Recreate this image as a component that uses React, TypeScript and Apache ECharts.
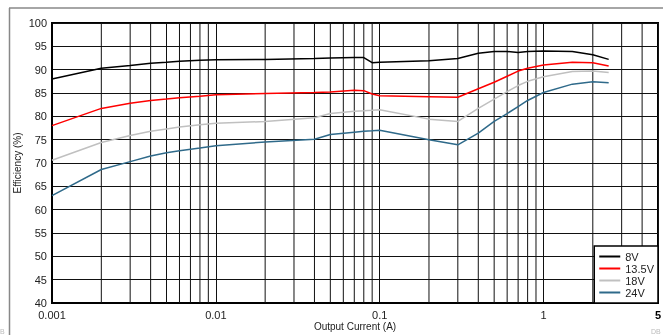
import { useEffect, useRef } from "react";
import * as echarts from "echarts";

const currents = [0.001, 0.002, 0.003, 0.004, 0.005, 0.006, 0.008, 0.01, 0.02, 0.04, 0.05, 0.07, 0.08, 0.09, 0.1, 0.2, 0.3, 0.4, 0.5, 0.6, 0.7, 0.8, 1, 1.5, 2, 2.5];
const eff8V = [88.0, 90.3, 90.9, 91.4, 91.6, 91.8, 92.0, 92.1, 92.2, 92.4, 92.5, 92.6, 92.6, 91.5, 91.6, 91.9, 92.4, 93.5, 93.9, 93.9, 93.7, 93.9, 94.0, 93.9, 93.2, 92.2];
const eff13V5 = [78.0, 81.7, 82.8, 83.4, 83.7, 84.0, 84.3, 84.6, 84.9, 85.1, 85.2, 85.6, 85.5, 84.8, 84.4, 84.2, 84.1, 85.9, 87.3, 88.6, 89.7, 90.3, 91.0, 91.6, 91.5, 90.8];
const eff18V = [70.6, 74.4, 75.9, 76.8, 77.3, 77.7, 78.2, 78.5, 78.9, 79.7, 80.6, 81.1, 81.2, 81.3, 81.4, 79.4, 78.9, 81.7, 83.7, 85.3, 86.6, 87.5, 88.5, 89.6, 89.7, 89.4];
const eff24V = [63.0, 68.6, 70.3, 71.5, 72.2, 72.6, 73.2, 73.7, 74.5, 75.1, 76.1, 76.6, 76.8, 76.9, 77.0, 75.0, 73.9, 76.4, 78.9, 80.6, 82.1, 83.4, 85.1, 86.9, 87.4, 87.2];

const seriesNames = ["8V", "13.5V", "18V", "24V"];
const seriesColors = ["#000000", "#ff0000", "#c0c0c0", "#2f6a8a"];
const seriesValues = [eff8V, eff13V5, eff18V, eff24V];

const xMin = 0.001;
const xMax = 5;
const yMin = 40;
const yMax = 100;
const yStep = 5;

const minorGridX = [
  0.002, 0.003, 0.004, 0.005, 0.006, 0.007, 0.008, 0.009,
  0.02, 0.03, 0.04, 0.05, 0.06, 0.07, 0.08, 0.09,
  0.2, 0.3, 0.4, 0.5, 0.6, 0.7, 0.8, 0.9,
  2, 3, 4,
];

const FONT = "'Liberation Sans', Arial, sans-serif";

export default function App() {
  const ref = useRef<HTMLDivElement>(null);
  useEffect(() => {
    const chart = echarts.init(ref.current!, null, { renderer: "svg" });
    const curveSeries = seriesNames.map((name, i) => ({
      name,
      type: "line",
      data: currents.map((c, j) => [c, seriesValues[i][j]]),
      symbol: "none",
      showSymbol: false,
      z: 3,
      lineStyle: { color: seriesColors[i], width: 1.5 },
      itemStyle: { color: seriesColors[i] },
    }));
    chart.setOption({
      animation: false,
      textStyle: { fontFamily: FONT },
      grid: {
        left: 52,
        right: 5,
        top: 23,
        bottom: 32,
        containLabel: false,
        outerBoundsMode: "none",
        show: true,
        borderColor: "#000",
        borderWidth: 2,
        backgroundColor: "transparent",
      },
      xAxis: {
        type: "log",
        logBase: 10,
        min: xMin,
        max: xMax,
        name: "Output Current (A)",
        nameLocation: "middle",
        nameMoveOverlap: false,
        nameGap: 18,
        nameTextStyle: { fontSize: 10, color: "#222", fontFamily: FONT },
        axisLine: { show: true, lineStyle: { color: "#000", width: 2 } },
        axisTick: { show: false },
        splitLine: { show: true, lineStyle: { color: "#111", width: 1 } },
        axisLabel: {
          fontSize: 11,
          color: "#222",
          margin: 6,
          showMaxLabel: true,
          showMinLabel: true,
          fontFamily: FONT,
          formatter: (v: number) => {
            if (Math.abs(v - 5) < 1e-6) return "{b|5}";
            return String(Number(v.toPrecision(1)));
          },
          rich: { b: { fontWeight: "bold", fontSize: 11, color: "#000", fontFamily: FONT } },
        },
      },
      yAxis: {
        type: "value",
        min: yMin,
        max: yMax,
        interval: yStep,
        name: "Efficiency (%)",
        nameLocation: "middle",
        nameMoveOverlap: false,
        nameGap: 30,
        nameTextStyle: { fontSize: 10, color: "#222", fontFamily: FONT },
        axisLine: { show: true, lineStyle: { color: "#000", width: 2 } },
        axisTick: { show: false },
        splitLine: { show: true, lineStyle: { color: "#111", width: 1 } },
        axisLabel: { fontSize: 11, color: "#222", margin: 5, fontFamily: FONT },
      },
      legend: {
        data: seriesNames,
        orient: "vertical",
        right: 5,
        bottom: 32,
        padding: [5, 4, 5, 5],
        itemGap: 1,
        itemWidth: 21,
        itemHeight: 2,
        icon: "rect",
        borderColor: "#000",
        borderWidth: 1.5,
        borderRadius: 0,
        backgroundColor: "#fff",
        textStyle: { fontSize: 11, lineHeight: 11, color: "#222", fontFamily: FONT },
      },
      graphic: [
        { type: "line", shape: { x1: 9, y1: 8, x2: 663, y2: 8 }, style: { stroke: "#888", lineWidth: 1.5 } },
        { type: "line", shape: { x1: 9.5, y1: 8, x2: 9.5, y2: 335 }, style: { stroke: "#888", lineWidth: 1.5 } },
        { type: "text", left: 0, top: 328, style: { text: "B", fontSize: 7, fill: "#bbb", fontFamily: FONT } },
        { type: "text", left: 651, top: 328, style: { text: "DB", fontSize: 7, fill: "#bbb", fontFamily: FONT } },
      ],
      series: [
        {
          name: "grid-minor",
          type: "custom",
          silent: true,
          z: 1,
          clip: false,
          encode: { x: 0, y: 1 },
          data: minorGridX.map((v) => [v, yMin]),
          renderItem: (_params: any, api: any) => {
            const x = api.value(0);
            const p1 = api.coord([x, yMin]);
            const p2 = api.coord([x, yMax]);
            return {
              type: "line",
              shape: { x1: p1[0], y1: p1[1], x2: p2[0], y2: p2[1] },
              style: { stroke: "#111", lineWidth: 1 },
            };
          },
        },
        ...curveSeries,
      ],
    });
    return () => chart.dispose();
  }, []);
  return <div ref={ref} style={{ position: "fixed", left: 0, top: 0, width: 663, height: 335 }} />;
}
